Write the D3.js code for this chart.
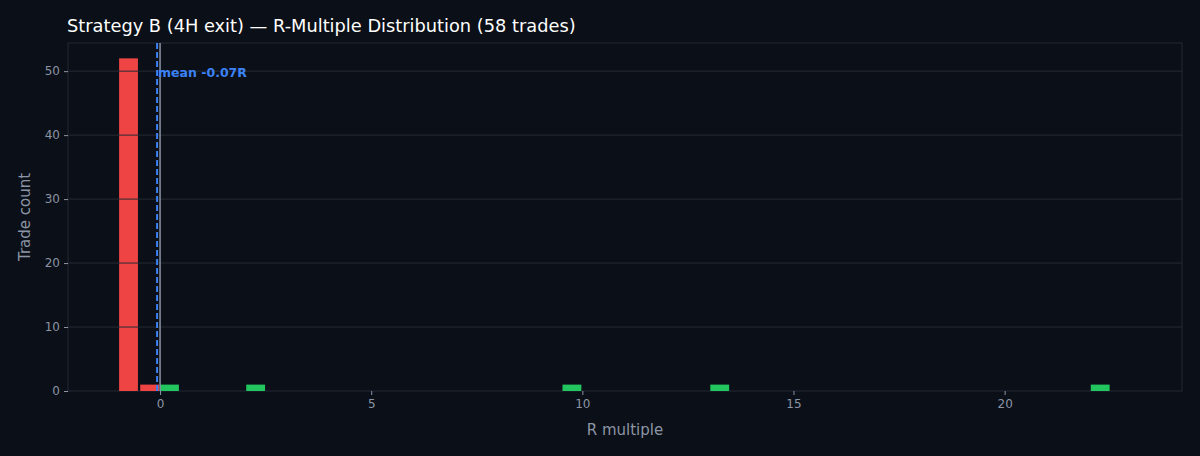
<!DOCTYPE html>
<html><head><meta charset="utf-8">
<script src="https://cdn.jsdelivr.net/npm/d3@7"></script>
<style>
body{margin:0;background:#0b0f17;}
text{font-family:"DejaVu Sans",sans-serif;}
</style></head><body>
<svg id="c" width="1200" height="456"></svg>
<script>
// histogram bins (left edge, R) and counts
var binStarts = [-0.97, -0.47, 0.0, 2.04, 9.53, 13.03, 22.04];
var binWidth = 0.47;
var counts = [52, 1, 1, 1, 1, 1, 1];
var xTicks = [0, 5, 10, 15, 20];
var yTicks = [0, 10, 20, 30, 40, 50];
var meanR = -0.07;

var svg = d3.select("#c");
var m = {l: 68, r: 1182, t: 43, b: 391};
var x = d3.scaleLinear().domain([-2.18, 24.2]).range([m.l, m.r]);
var y = d3.scaleLinear().domain([0, 54.4]).range([m.b, m.t]);

svg.append("rect").attr("x", m.l).attr("y", m.t).attr("width", m.r - m.l).attr("height", m.b - m.t)
  .attr("fill", "#0b0f17").attr("stroke", "#232935");

svg.selectAll(".bar").data(binStarts).enter().append("rect")
  .attr("x", function (d) { return x(d); })
  .attr("width", function (d) { return x(d + binWidth) - x(d) - 1; })
  .attr("y", function (d, i) { return y(counts[i]); })
  .attr("height", function (d, i) { return y(0) - y(counts[i]); })
  .attr("fill", function (d) { return d < 0 ? "#ef4444" : "#22c55e"; });

// grid on top
svg.selectAll(".grid").data(yTicks.slice(1)).enter().append("line")
  .attr("x1", m.l).attr("x2", m.r)
  .attr("y1", function (d) { return y(d); }).attr("y2", function (d) { return y(d); })
  .attr("stroke", "#262b35").attr("stroke-width", 1);

var xa = svg.append("g").attr("transform", "translate(0," + m.b + ")")
  .call(d3.axisBottom(x).tickValues(xTicks).tickSize(4).tickPadding(4));
var ya = svg.append("g").attr("transform", "translate(" + m.l + ",0)")
  .call(d3.axisLeft(y).tickValues(yTicks).tickSize(4).tickPadding(4));
[xa, ya].forEach(function (a) {
  a.select(".domain").remove();
  a.selectAll("line").attr("stroke", "#8b95a5");
  a.selectAll("text").attr("fill", "#8b95a5").attr("font-size", 12);
});

svg.append("line").attr("x1", x(0)).attr("x2", x(0)).attr("y1", m.t).attr("y2", m.b)
  .attr("stroke", "#8b95a5").attr("stroke-width", 1.5);
svg.append("line").attr("x1", x(meanR)).attr("x2", x(meanR)).attr("y1", m.t).attr("y2", m.b)
  .attr("stroke", "#3b82f6").attr("stroke-width", 2).attr("stroke-dasharray", "6,3");
svg.append("text").attr("x", x(meanR) + 1).attr("y", 77)
  .attr("fill", "#3b82f6").attr("font-size", 12.5).attr("font-weight", "bold").text("mean -0.07R");

svg.append("text").attr("x", 67).attr("y", 32).attr("fill", "#ffffff").attr("font-size", 17.8)
  .text("Strategy B (4H exit) — R-Multiple Distribution (58 trades)");
svg.append("text").attr("x", (m.l + m.r) / 2).attr("y", 435).attr("text-anchor", "middle")
  .attr("fill", "#8b95a5").attr("font-size", 15).text("R multiple");
svg.append("text").attr("transform", "translate(30," + (m.t + m.b) / 2 + ") rotate(-90)")
  .attr("text-anchor", "middle").attr("fill", "#8b95a5").attr("font-size", 15).text("Trade count");
</script></body></html>
